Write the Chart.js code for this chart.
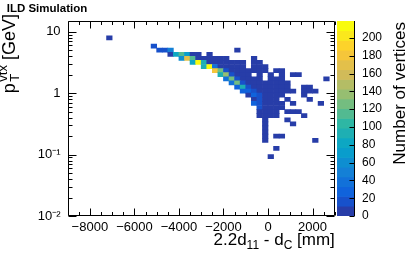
<!DOCTYPE html>
<html>
<head>
<meta charset="utf-8">
<script src="https://cdn.jsdelivr.net/npm/chart.js@4.4.1/dist/chart.umd.min.js"></script>
<style>
html,body{margin:0;padding:0;background:#fff;overflow:hidden;}
#wrap{position:relative;width:407px;height:264px;}
#wrap canvas{position:absolute;left:0;top:0;}
</style>
</head>
<body>
<div id="wrap">
<canvas id="main" width="407" height="264"></canvas>
<canvas id="cbar" width="407" height="264"></canvas>
</div>
<script>
// ---------------- DATA ----------------
// pT bin centres [GeV], one per row of filled cells
const rowPt = [7.96, 5.86, 5.02, 4.31, 3.70, 3.17, 2.72, 2.33, 2.00, 1.71, 1.47, 1.26, 1.08,
               0.927, 0.795, 0.682, 0.585, 0.501, 0.430, 0.369, 0.316, 0.272, 0.233, 0.200, 0.171, 0.126, 0.0927];
// x bin centres [mm] of the filled cells in each row
const rowX = [
  [-7125],
  [-5125],
  [-4875,-4625,-4375,-1375],
  [-4375,-4125,-3875,-3625,-3375,-3125,-2625],
  [-3875,-3625,-3375,-3125,-2875,-2625,-2375,-2125,-1875,-625],
  [-3375,-3125,-2875,-2625,-2375,-2125,-1875,-1625,-1375,-1125,-625,-375],
  [-2875,-2625,-2375,-2125,-1875,-1625,-1375,-1125,-625,-375,-125],
  [-2375,-2125,-1875,-1625,-1375,-1125,-875,-625,-375,-125,375,625],
  [-2125,-1875,-1625,-1375,-1125,-875,-375,125,625,1125,1375],
  [-1875,-1625,-1375,-1125,-875,-625,-375,125,375,625,2625],
  [-1625,-1375,-1125,-875,-625,-375,-125,125,375,625,875],
  [-1375,-1125,-875,-625,-375,-125,125,375,625,875,1625,1875],
  [-1125,-875,-625,-375,-125,125,375,625,875,1125,1625,1875,2125],
  [-875,-625,-375,-125,125,375,625,1625],
  [-625,-375,-125,125,375,875,1875],
  [-625,-375,-125,125,375,625,1125,2375],
  [-375,-125,125,375,625],
  [-375,-125,125,375,875,1125,1375],
  [-375,-125,125,375,1625],
  [-125,875],
  [-125,1125],
  [-125],
  [-125],
  [-125,375,625],
  [-125,2125],
  [375],
  [125]
];
// number of vertices in each of those cells
const rowCount = [
  [8],
  [14],
  [18,13,50,3],
  [6,85,110,75,5,4,2],
  [65,175,115,6,5,4,3,2,3,2],
  [80,210,95,8,6,5,4,4,3,2,3,2],
  [90,218,35,9,7,6,4,3,2,3,2],
  [180,125,12,8,7,6,5,4,3,3,2,2],
  [95,140,14,10,8,6,4,3,2,2,2],
  [40,130,15,10,8,6,5,3,3,2,2],
  [35,125,16,10,8,6,5,4,3,3,2],
  [30,95,18,10,8,6,4,3,3,2,2,2],
  [28,25,12,9,7,5,4,3,2,2,2,3,2],
  [10,22,12,8,6,4,3,2],
  [8,15,9,6,4,2,2],
  [25,20,10,6,4,3,2,2],
  [14,9,6,5,3],
  [8,8,5,4,2,2,2],
  [5,6,4,3,2],
  [5,2],
  [4,2],
  [3],
  [3],
  [2,2,2],
  [2,2],
  [2],
  [2]
];
// axis ticks and labels
const xTickValues = [-9000,-8500,-8000,-7500,-7000,-6500,-6000,-5500,-5000,-4500,-4000,-3500,-3000,-2500,
                     -2000,-1500,-1000,-500,0,500,1000,1500,2000,2500,3000];
const xLabelValues = [-8000,-6000,-4000,-2000,0,2000];
const yTickValues = [0.01,0.02,0.03,0.04,0.05,0.06,0.07,0.08,0.09,0.1,0.2,0.3,0.4,0.5,0.6,0.7,0.8,0.9,
                     1,2,3,4,5,6,7,8,9,10];
const yLabelValues = [0.01, 0.1, 1, 10];
const yLabelTexts  = ['10\u207B\u00B2', '10\u207B\u00B9', '1', '10'];
const zTickValues = [0,20,40,60,80,100,120,140,160,180,200];
const zMax = 219;
const nContours = 20;

// ---------------- styling helpers ----------------
const birdStops = [0, 0.125, 0.25, 0.375, 0.5, 0.625, 0.75, 0.875, 1];
const birdR = [0.2082, 0.0592, 0.0780, 0.0232, 0.1802, 0.5301, 0.8186, 0.9956, 0.9764];
const birdG = [0.1664, 0.3599, 0.5041, 0.6419, 0.7178, 0.7492, 0.7328, 0.7862, 0.9832];
const birdB = [0.5293, 0.8684, 0.8385, 0.7914, 0.6425, 0.4662, 0.3499, 0.1968, 0.0539];
function bird(f){
  let i = 0;
  while (i < birdStops.length - 2 && f > birdStops[i+1]) i++;
  const t = (f - birdStops[i]) / (birdStops[i+1] - birdStops[i]);
  const c = a => Math.round(255 * (a[i] + (a[i+1] - a[i]) * t));
  return 'rgb(' + c(birdR) + ',' + c(birdG) + ',' + c(birdB) + ')';
}
function bandColor(k){
  const idx = Math.min(254, Math.floor((k + 0.99) * 255 / nContours));
  return bird(idx / 254);
}
function countColor(c){
  const k = Math.min(nContours - 1, Math.floor(c / zMax * nContours));
  return bandColor(k);
}
const ptHalfBin = Math.pow(10, 0.0667 / 2);
const FONT = "'Liberation Sans', Arial, Helvetica, sans-serif";
Chart.defaults.font.family = FONT;
Chart.defaults.color = '#000';

const cells = [];
rowPt.forEach((pt, r) => {
  rowX[r].forEach((x, i) => {
    cells.push({x: x, y: [pt / ptHalfBin, pt * ptHalfBin], c: rowCount[r][i]});
  });
});

function fmtX(v){ return v < 0 ? '\u2212' + Math.abs(v) : String(v); }
function isVal(list, v){ return list.some(u => Math.abs(u - v) <= 1e-9 * Math.max(1, Math.abs(u))); }

// rich text (sub/superscripts)
function segWidth(ctx, s){
  ctx.font = s.s + 'px ' + FONT;
  return ctx.measureText(s.t).width + (s.gap || 0);
}
function richWidth(ctx, parts){
  let w = 0;
  parts.forEach(p => { w += p.stack ? Math.max(...p.stack.map(s => segWidth(ctx, s))) : segWidth(ctx, p); });
  return w;
}
function drawRich(ctx, parts, x, y){
  let cx = x;
  ctx.textBaseline = 'alphabetic'; ctx.textAlign = 'left'; ctx.fillStyle = '#000';
  parts.forEach(p => {
    const list = p.stack ? p.stack : [p];
    let w = 0;
    list.forEach(s => {
      ctx.font = s.s + 'px ' + FONT;
      ctx.fillText(s.t, cx, y + (s.dy || 0));
      w = Math.max(w, ctx.measureText(s.t).width + (s.gap || 0));
    });
    cx += w;
  });
}
const yTitle = [{t:'p', s:18, gap:1.5}, {stack:[{t:'T', s:13, dy:4}, {t:'vtx', s:13, dy:-8}]}, {t:' [GeV]', s:18}];
const xTitle = [{t:'2.2d', s:17}, {t:'11', s:12, dy:4}, {t:' - d', s:17}, {t:'C', s:12, dy:4}, {t:' [mm]', s:17}];
const zTitle = [{t:'Number of vertices', s:17}];

const framePlugin = {
  id: 'frameTicks',
  afterDatasetsDraw(chart){
    const {ctx, chartArea: a} = chart;
    const xs = chart.scales.x, ys = chart.scales.y;
    const L = Math.round(a.left) + 0.5, R = Math.round(a.right) - 0.5;
    const T = Math.round(a.top) + 0.5, B = Math.round(a.bottom) - 0.5;
    ctx.save();
    ctx.strokeStyle = '#000'; ctx.lineWidth = 1;
    ctx.beginPath();
    ctx.rect(L, T, R - L, B - T);
    xs.ticks.forEach(t => {
      const p = Math.round(xs.getPixelForValue(t.value)) + 0.5;
      const len = isVal(xLabelValues, t.value) ? 7 : 3.5;
      ctx.moveTo(p, B); ctx.lineTo(p, B - len);
      ctx.moveTo(p, T); ctx.lineTo(p, T + len);
    });
    ys.ticks.forEach(t => {
      const p = Math.round(ys.getPixelForValue(t.value)) + 0.5;
      const len = isVal(yLabelValues, t.value) ? 8 : 4;
      ctx.moveTo(L, p); ctx.lineTo(L + len, p);
      ctx.moveTo(R, p); ctx.lineTo(R - len, p);
    });
    ctx.stroke();
    ctx.restore();
  },
  afterDraw(chart){
    const ctx = chart.ctx, a = chart.chartArea;
    ctx.save();
    // y title, rotated, ending at the top
    ctx.translate(14.5, 14);
    ctx.rotate(-Math.PI / 2);
    drawRich(ctx, yTitle, -richWidth(ctx, yTitle), 0);
    ctx.restore();
    ctx.save();
    drawRich(ctx, xTitle, a.right - richWidth(ctx, xTitle), 245);
    ctx.restore();
  }
};

new Chart(document.getElementById('main'), {
  type: 'bar',
  data: {
    datasets: [{
      data: cells.map(d => ({x: d.x, y: d.y})),
      backgroundColor: cells.map(d => countColor(d.c)),
      borderWidth: 0,
      barPercentage: 1,
      categoryPercentage: 1
    }]
  },
  options: {
    responsive: false,
    animation: false,
    events: [],
    layout: {padding: {left: 6.7, right: 72.2, top: 0, bottom: 0}},
    plugins: {
      legend: {display: false},
      tooltip: {enabled: false},
      title: {display: true, text: 'ILD Simulation', align: 'start', color: '#000',
              font: {size: 11.5, weight: 'bold', family: FONT}, padding: {top: 2.1, bottom: 5.1}}
    },
    scales: {
      x: {
        type: 'linear', min: -9000, max: 3000, offset: false,
        grid: {display: false, drawTicks: false}, border: {display: false},
        afterBuildTicks: s => { s.ticks = xTickValues.map(v => ({value: v})); },
        ticks: {autoSkip: false, maxRotation: 0, minRotation: 0, padding: 4, font: {size: 13},
                callback: v => isVal(xLabelValues, v) ? fmtX(v) : ''},
        afterFit: s => { s.height = 48; }
      },
      y: {
        type: 'logarithmic', min: 0.01, max: 15,
        grid: {display: false, drawTicks: false}, border: {display: false},
        afterBuildTicks: s => { s.ticks = yTickValues.map(v => ({value: v})); },
        ticks: {autoSkip: false, padding: 7, font: {size: 13},
                callback: v => { const i = yLabelValues.findIndex(u => Math.abs(u - v) < 1e-9 * u * 10); return i >= 0 ? yLabelTexts[i] : ''; }},
        afterFit: s => { s.width = 60.9; }
      }
    }
  },
  plugins: [framePlugin]
});

// ---------------- colour bar ----------------
const bands = [];
for (let k = 0; k < nContours; k++) bands.push({x: 0, y: [k * zMax / nContours, (k + 1) * zMax / nContours]});
const cbarPlugin = {
  id: 'cbarTicks',
  afterDatasetsDraw(chart){
    const {ctx, chartArea: a} = chart;
    const ys = chart.scales.y;
    ctx.save();
    ctx.strokeStyle = '#000'; ctx.lineWidth = 1;
    ctx.beginPath();
    const R = Math.round(a.right) - 0.5;
    ctx.moveTo(R, a.top); ctx.lineTo(R, a.bottom);
    ys.ticks.forEach(t => {
      const p = Math.round(ys.getPixelForValue(t.value)) + 0.5;
      ctx.moveTo(R, p); ctx.lineTo(R - 5, p);
    });
    ctx.stroke();
    ctx.restore();
  },
  afterDraw(chart){
    const ctx = chart.ctx;
    ctx.save();
    ctx.translate(405, 22);
    ctx.rotate(-Math.PI / 2);
    drawRich(ctx, zTitle, -richWidth(ctx, zTitle), 0);
    ctx.restore();
  }
};
new Chart(document.getElementById('cbar'), {
  type: 'bar',
  data: {
    datasets: [{
      data: bands,
      backgroundColor: bands.map((b, k) => bandColor(k)),
      borderWidth: 0,
      barPercentage: 1,
      categoryPercentage: 1
    }]
  },
  options: {
    responsive: false,
    animation: false,
    events: [],
    layout: {padding: {left: 337, right: 0, top: 21, bottom: 48}},
    plugins: {legend: {display: false}, tooltip: {enabled: false}},
    scales: {
      x: {type: 'linear', min: -0.5, max: 0.5, offset: false, display: false,
          afterBuildTicks: s => { s.ticks = [{value: -0.5}, {value: 0.5}]; }},
      y: {
        type: 'linear', position: 'right', min: 0, max: zMax,
        grid: {display: false, drawTicks: false}, border: {display: false},
        afterBuildTicks: s => { s.ticks = zTickValues.map(v => ({value: v})); },
        ticks: {autoSkip: false, padding: 7, font: {size: 12}},
        afterFit: s => { s.width = 52; }
      }
    }
  },
  plugins: [cbarPlugin]
});
</script>
</body>
</html>
